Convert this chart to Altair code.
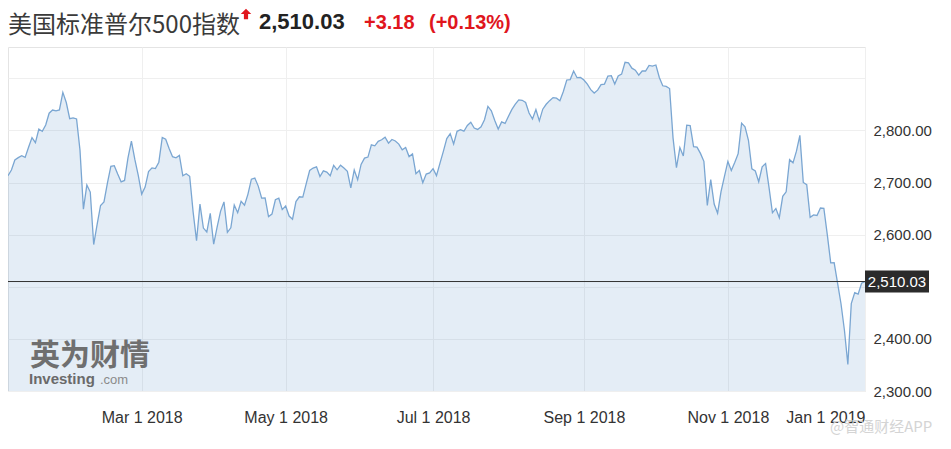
import altair as alt
import pandas as pd

# S&P 500 daily closes (trading days), Jan 3 2018 – Jan 2 2019
jan_2018 = [2713.06, 2723.99, 2743.15, 2747.71, 2751.29, 2748.23, 2767.56, 2786.24, 2776.42, 2802.56,
            2798.03, 2810.30, 2832.97, 2839.13, 2837.54, 2839.25, 2872.87, 2853.53, 2822.43, 2823.81]
feb_2018 = [2821.98, 2762.13, 2648.94, 2695.14, 2681.66, 2581.00, 2619.55, 2656.00, 2662.94, 2698.63,
            2731.20, 2732.22, 2716.26, 2701.33, 2703.96, 2747.30, 2779.60, 2744.28, 2713.83]
mar_2018 = [2677.67, 2691.25, 2720.94, 2728.12, 2726.80, 2738.97, 2786.57, 2783.02, 2765.31, 2749.48,
            2747.33, 2752.01, 2712.92, 2716.94, 2711.93, 2643.69, 2588.26, 2658.55, 2612.62, 2605.00, 2640.87]
apr_2018 = [2581.88, 2614.45, 2644.69, 2662.84, 2604.47, 2613.16, 2656.87, 2642.19, 2663.99, 2656.30,
            2677.84, 2706.39, 2708.64, 2693.13, 2670.14, 2670.29, 2634.56, 2639.40, 2666.94, 2669.91, 2648.05]
may_2018 = [2654.80, 2635.67, 2629.73, 2663.42, 2672.63, 2671.92, 2697.79, 2723.07, 2727.72, 2730.13,
            2711.45, 2722.46, 2720.13, 2712.97, 2733.01, 2724.44, 2733.29, 2727.76, 2721.33, 2689.86,
            2724.01, 2705.27]
jun_2018 = [2734.62, 2746.87, 2748.80, 2772.35, 2770.37, 2779.03, 2782.00, 2786.85, 2775.63, 2782.49,
            2779.66, 2773.75, 2762.59, 2767.32, 2749.76, 2754.88, 2717.07, 2723.06, 2699.63, 2716.31, 2718.37]
jul_2018 = [2726.71, 2713.22, 2736.61, 2759.82, 2784.17, 2793.84, 2774.02, 2798.29, 2801.31, 2798.43,
            2809.55, 2815.62, 2804.49, 2801.83, 2806.98, 2820.40, 2846.07, 2837.44, 2818.82, 2802.60, 2816.29]
aug_2018 = [2813.36, 2827.22, 2840.35, 2850.40, 2858.45, 2857.70, 2853.58, 2833.28, 2821.93, 2839.96,
            2818.37, 2840.69, 2850.13, 2857.05, 2862.96, 2861.82, 2856.98, 2874.69, 2896.74, 2897.52,
            2914.04, 2901.13, 2901.52]
sep_2018 = [2896.72, 2888.60, 2878.05, 2871.68, 2877.13, 2887.89, 2888.92, 2904.18, 2904.98, 2888.80,
            2904.31, 2907.95, 2930.75, 2929.67, 2919.37, 2915.56, 2905.97, 2914.00, 2913.98]
oct_2018 = [2924.59, 2923.43, 2925.51, 2901.61, 2885.57, 2884.43, 2880.34, 2785.68, 2728.37, 2767.13,
            2750.79, 2809.92, 2809.21, 2768.78, 2767.78, 2755.88, 2740.69, 2656.10, 2705.57, 2658.69,
            2641.25, 2682.63, 2711.74]
nov_2018 = [2740.37, 2723.06, 2738.31, 2755.45, 2813.89, 2806.83, 2781.01, 2726.22, 2722.18, 2701.58,
            2730.20, 2736.27, 2690.73, 2641.89, 2649.93, 2632.56, 2673.45, 2682.17, 2743.79, 2737.76, 2760.17]
dec_2018 = [2790.37, 2700.06, 2695.95, 2633.08, 2637.72, 2636.78, 2651.07, 2650.54, 2599.95, 2545.94,
            2546.16, 2506.96, 2467.42, 2416.62, 2351.10, 2467.70, 2488.83, 2485.74, 2506.85]
jan_2019 = [2510.03]

holidays = ["2018-01-15", "2018-02-19", "2018-03-30", "2018-05-28", "2018-07-04",
            "2018-09-03", "2018-11-22", "2018-12-05", "2018-12-25", "2019-01-01"]

tick_dates = ["2018-03-01", "2018-05-01", "2018-07-01", "2018-09-01", "2018-11-01", "2019-01-01"]
tick_labels = ["Mar 1 2018", "May 1 2018", "Jul 1 2018", "Sep 1 2018", "Nov 1 2018", "Jan 1 2019"]

y_ticks = [2300, 2400, 2500, 2600, 2700, 2800, 2900]
y_hidden = [2500, 2900]

title_text = "美国标准普尔500指数"
price_text = "2,510.03"
change_text = "+3.18"
pct_text = "(+0.13%)"

values = (jan_2018 + feb_2018 + mar_2018 + apr_2018 + may_2018 + jun_2018 + jul_2018 +
          aug_2018 + sep_2018 + oct_2018 + nov_2018 + dec_2018 + jan_2019)
dates = [d for d in pd.bdate_range("2018-01-03", "2019-01-02") if d.strftime("%Y-%m-%d") not in holidays]
assert len(dates) == len(values), (len(dates), len(values))

df = pd.DataFrame({"idx": list(range(len(values))), "close": values})
last = values[-1]

tick_pos = [next(i for i, d in enumerate(dates) if d >= pd.Timestamp(t)) for t in tick_dates]
label_expr = " : ".join(f"datum.value == {p} ? '{l}'" for p, l in zip(tick_pos, tick_labels)) + " : ''"
y_label_expr = " || ".join(f"datum.value == {v}" for v in y_hidden) + " ? '' : format(datum.value, ',.2f')"

W, H = 857, 344
LAB = "Liberation Sans"

x_enc = alt.X("idx:Q", scale=alt.Scale(domain=[0, len(values) - 1], nice=False, zero=False),
              axis=alt.Axis(values=tick_pos, labelExpr=label_expr, grid=True, gridColor="#efefef",
                            domain=False, ticks=False, labelFontSize=16, labelColor="#333333",
                            labelFont=LAB, labelPadding=18, labelFlush=True, labelOverlap=False,
                            title=None))
y_enc = alt.Y("close:Q", scale=alt.Scale(domain=[2300, 2960], nice=False, zero=False),
              axis=alt.Axis(orient="right", values=y_ticks, labelExpr=y_label_expr, grid=True,
                            gridColor="#efefef", domain=False, ticks=False, labelPadding=8,
                            labelFontSize=15, labelColor="#333333", labelFont=LAB, title=None))

area = alt.Chart(df).mark_area(
    clip=True, color="#4a86c5", fillOpacity=0.15,
    line={"color": "#7aa6d2", "strokeWidth": 1.3}
).encode(x=x_enc, y=y_enc)

last_df = pd.DataFrame({"close": [last], "label": [price_text]})
rule = alt.Chart(last_df).mark_rule(color="#333333", strokeWidth=1).encode(y="close:Q")

box = alt.Chart(last_df).mark_point(
    shape="M-1,-0.34375H1V0.34375H-1Z", filled=True, size=4096, color="#2b2b2b", opacity=1, strokeWidth=0
).encode(x=alt.value(889), y="close:Q")
box_text = alt.Chart(last_df).mark_text(
    color="white", fontSize=15, font=LAB, align="center", baseline="middle"
).encode(x=alt.value(889), y="close:Q", text="label:N")


def header(txt, x, y, **kw):
    return alt.Chart(pd.DataFrame({"t": [txt]})).mark_text(align="left", baseline="alphabetic", **kw).encode(
        x=alt.value(x), y=alt.value(y), text="t:N")


title = header(title_text, 0, -14, font="Noto Sans CJK SC", fontSize=24, color="#3a3a3a")
price = header(price_text, 251, -18, font=LAB, fontSize=22, fontWeight="bold", color="#222222")
change = header(change_text, 356, -18, font=LAB, fontSize=20, fontWeight="bold", color="#e0161d")
pct = header(pct_text, 421, -18, font=LAB, fontSize=20, fontWeight="bold", color="#e0161d")
arrow = alt.Chart(pd.DataFrame({"a": [1]})).mark_point(
    shape="M0,-1L1,0H0.4V1H-0.4V0H-1Z", filled=True, size=110, color="#e0161d", opacity=1, strokeWidth=0
).encode(x=alt.value(238), y=alt.value(-33))

wm1 = header("英为财情", 22, 318, font="Noto Sans CJK SC", fontSize=30, fontWeight="bold", color="#6f6f6f")
wm2 = header("Investing", 21, 337, font=LAB, fontSize=15, fontWeight="bold", color="#6a6a6a")
wm3 = header(".com", 92, 337, font=LAB, fontSize=13, color="#8a8a8a")
wm4 = header("@智通财经APP", 822, 385, font="Noto Sans CJK SC", fontSize=15, color="#d4d4d4")

chart = alt.layer(area, rule, box, box_text, title, price, change, pct, arrow, wm1, wm2, wm3, wm4).properties(
    width=W, height=H,
    padding={"left": 0, "top": 39, "right": 78, "bottom": 47},
    autosize=alt.AutoSizeParams(type="none"),
).configure_view(stroke="#e4e4e4", strokeWidth=1)

chart.save("out.html", embed_options={"renderer": "svg", "actions": False})
